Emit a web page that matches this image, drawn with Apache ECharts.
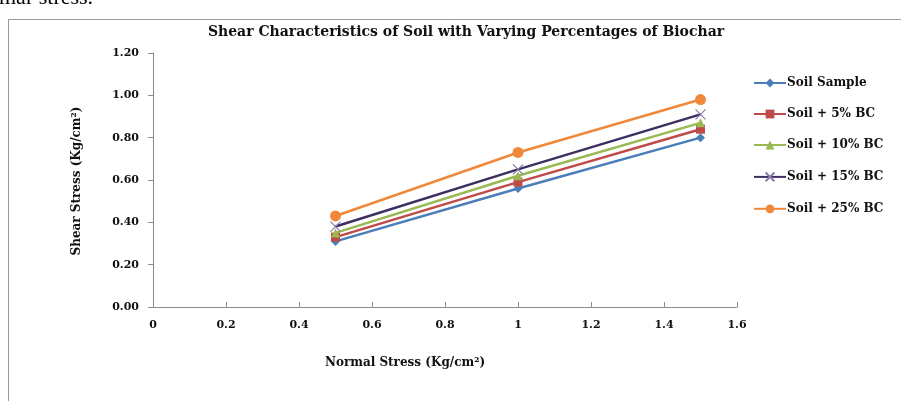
<!DOCTYPE html>
<html><head><meta charset="utf-8">
<script src="https://cdn.jsdelivr.net/npm/echarts@6/dist/echarts.min.js"></script>
<style>html,body{margin:0;padding:0;background:#fff}#c{width:901px;height:401px}</style>
</head><body><div id="c"></div>
<script>
const normalStress = [0.5, 1.0, 1.5];
const seriesNames = ['Soil Sample', 'Soil + 5% BC', 'Soil + 10% BC', 'Soil + 15% BC', 'Soil + 25% BC'];
const soilSample = [0.31, 0.56, 0.80];
const soil5 = [0.33, 0.59, 0.84];
const soil10 = [0.35, 0.62, 0.87];
const soil15 = [0.38, 0.65, 0.91];
const soil25 = [0.43, 0.73, 0.98];
const allValues = [soilSample, soil5, soil10, soil15, soil25];
const colors = ['#4A7EBB', '#BE4B48', '#98B954', '#3E2F63', '#F0883A'];
const symbols = ['diamond', 'rect', 'triangle', 'path://M0,0L10,10M10,0L0,10', 'circle'];
const sizes = [9, 9, 9, 10, 11];
const F = '"DejaVu Serif", serif';

const series = seriesNames.map((n, i) => ({
  name: n,
  type: 'line',
  data: normalStress.map((x, j) => [x, allValues[i][j]]),
  symbol: symbols[i],
  symbolSize: sizes[i],
  showSymbol: true,
  lineStyle: { color: colors[i], width: 2.5 },
  itemStyle: i === 3 ? { color: 'none', borderColor: '#8a7aa8', borderWidth: 1.2 } : { color: colors[i] },
  emphasis: { disabled: true },
  z: 2 + i
}));

const chart = echarts.init(document.getElementById('c'), null, { renderer: 'canvas' });
chart.setOption({
  animation: false,
  backgroundColor: '#fff',
  title: {
    text: 'Shear Characteristics of Soil with Varying Percentages of Biochar',
    left: 461, top: 20, textAlign: 'center',
    textStyle: { fontFamily: F, fontWeight: 'bold', fontSize: 14, color: '#111' }
  },
  legend: {
    orient: 'vertical', left: 748, top: 72,
    itemWidth: 32, itemHeight: 11, itemGap: 19,
    textStyle: { fontFamily: F, fontWeight: 'bold', fontSize: 12, color: '#111', padding: [0, 0, 0, -4] },
    data: seriesNames
  },
  grid: { left: 153, right: 164, top: 53, bottom: 94, containLabel: false },
  xAxis: {
    type: 'value', min: 0, max: 1.6, interval: 0.2,
    axisLine: { show: true, lineStyle: { color: '#8c8c8c', width: 1 } },
    axisTick: { show: true, inside: true, length: 5, lineStyle: { color: '#8c8c8c' } },
    splitLine: { show: false },
    axisLabel: { margin: 13, fontFamily: F, fontWeight: 'bold', fontSize: 11, color: '#111',
      formatter: v => String(Math.round(v * 10) / 10) }
  },
  yAxis: {
    type: 'value', min: 0, max: 1.2, interval: 0.2,
    axisLine: { show: true, lineStyle: { color: '#8c8c8c', width: 1 } },
    axisTick: { show: true, inside: false, length: 5, lineStyle: { color: '#8c8c8c' } },
    splitLine: { show: false },
    axisLabel: { margin: 14, fontFamily: F, fontWeight: 'bold', fontSize: 11, color: '#111',
      formatter: v => v.toFixed(2) }
  },
  graphic: [
    { type: 'rect', shape: { x: 8.5, y: 19.5, width: 1000, height: 500 }, style: { fill: 'none', stroke: '#9a9a9a', lineWidth: 1 }, silent: true },
    { type: 'text', x: -1, y: 9, style: { text: 'mar stress.', font: '22px "Liberation Serif", serif', fill: '#000', verticalAlign: 'bottom' }, silent: true },
    { type: 'text', x: 405, y: 363, style: { text: 'Normal Stress (Kg/cm²)', font: 'bold 12px "DejaVu Serif", serif', fill: '#111', align: 'center', verticalAlign: 'middle' }, silent: true },
    { type: 'text', x: 77, y: 181, rotation: Math.PI / 2, style: { text: 'Shear Stress (Kg/cm²)', font: 'bold 12px "DejaVu Serif", serif', fill: '#111', align: 'center', verticalAlign: 'middle' }, silent: true }
  ],
  series: series
});
</script></body></html>
